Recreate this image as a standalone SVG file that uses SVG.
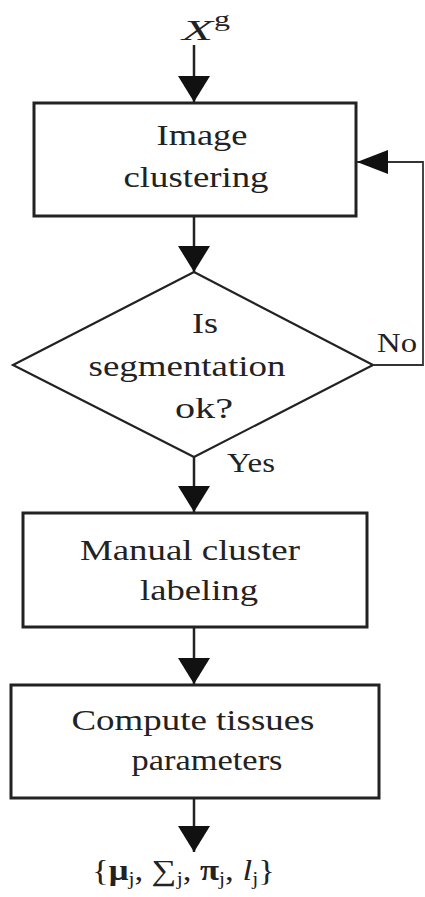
<svg xmlns="http://www.w3.org/2000/svg" width="425" height="897" viewBox="0 0 425 897">
<style>
.box{fill:#fff;stroke:#222;stroke-width:3}
.dia{fill:#fff;stroke:#222;stroke-width:2.2}
.c{fill:none;stroke:#222;stroke-width:2.5}
.loop{fill:none;stroke:#333;stroke-width:1.8}
</style>
<defs>
<marker id="ah" viewBox="0 0 26 32" refX="26" refY="16" markerWidth="26" markerHeight="32" markerUnits="userSpaceOnUse" orient="auto">
<path d="M0,0 L26,16 L0,32 Z" fill="#111"/>
</marker>
<marker id="ahs" viewBox="0 0 31 24" refX="31" refY="12" markerWidth="31" markerHeight="24" markerUnits="userSpaceOnUse" orient="auto">
<path d="M0,0 L31,12 L0,24 Z" fill="#111"/>
</marker>
</defs>
<g font-family="Liberation Serif, DejaVu Serif, serif" fill="#222">
<g id="input">
<text x="182" y="40" font-size="30" font-style="italic" textLength="31" lengthAdjust="spacingAndGlyphs">X</text>
<text x="214" y="26" font-size="21" textLength="16" lengthAdjust="spacingAndGlyphs">g</text>
</g>
<g id="image-clustering">
<rect class="box" x="34" y="103" width="322" height="113"/>
<g font-size="30" text-anchor="middle">
<text x="202" y="145" textLength="91" lengthAdjust="spacingAndGlyphs">Image</text>
<text x="196" y="187" textLength="145" lengthAdjust="spacingAndGlyphs">clustering</text>
</g>
</g>
<g id="decision">
<polygon class="dia" points="194,272 373,365 194,457 13,365"/>
<g font-size="30" text-anchor="middle">
<text x="205" y="333" textLength="26" lengthAdjust="spacingAndGlyphs">Is</text>
<text x="187" y="376" textLength="197" lengthAdjust="spacingAndGlyphs">segmentation</text>
<text x="204" y="418" textLength="58" lengthAdjust="spacingAndGlyphs">ok?</text>
</g>
</g>
<g id="manual-labeling">
<rect class="box" x="23" y="513" width="344" height="114"/>
<g font-size="30" text-anchor="middle">
<text x="190" y="560" textLength="220" lengthAdjust="spacingAndGlyphs">Manual cluster</text>
<text x="199" y="600" textLength="118" lengthAdjust="spacingAndGlyphs">labeling</text>
</g>
</g>
<g id="compute-parameters">
<rect class="box" x="11" y="685" width="368" height="113"/>
<g font-size="30" text-anchor="middle">
<text x="193" y="730" textLength="243" lengthAdjust="spacingAndGlyphs">Compute tissues</text>
<text x="207" y="770" textLength="151" lengthAdjust="spacingAndGlyphs">parameters</text>
</g>
</g>
<g id="output">
<text transform="translate(92,880) scale(1.2,1)" x="0" y="0" font-size="29">{<tspan font-weight="bold">μ</tspan><tspan font-size="18" dy="5">j</tspan><tspan dy="-5">, ∑</tspan><tspan font-size="18" dy="5">j</tspan><tspan dy="-5">, </tspan><tspan font-weight="bold">π</tspan><tspan font-size="18" dy="5">j</tspan><tspan dy="-5">, </tspan><tspan font-style="italic">l</tspan><tspan font-size="18" dy="5">j</tspan><tspan dy="-5">}</tspan></text>
</g>
<g id="connectors">
<line class="c" x1="194" y1="45" x2="194" y2="102" marker-end="url(#ah)"/>
<line class="c" x1="194" y1="216" x2="194" y2="272" marker-end="url(#ah)"/>
<line class="c" x1="194" y1="457" x2="194" y2="512" marker-end="url(#ah)"/>
<line class="c" x1="194" y1="627" x2="194" y2="684" marker-end="url(#ah)"/>
<line class="c" x1="194" y1="798" x2="194" y2="852" marker-end="url(#ah)"/>
<polyline class="loop" points="373,365 423,365 423,162 357,162" marker-end="url(#ahs)"/>
<text x="377" y="352" font-size="27" textLength="40" lengthAdjust="spacingAndGlyphs">No</text>
<text x="227" y="472" font-size="27" textLength="48" lengthAdjust="spacingAndGlyphs">Yes</text>
</g>
</g>
</svg>
